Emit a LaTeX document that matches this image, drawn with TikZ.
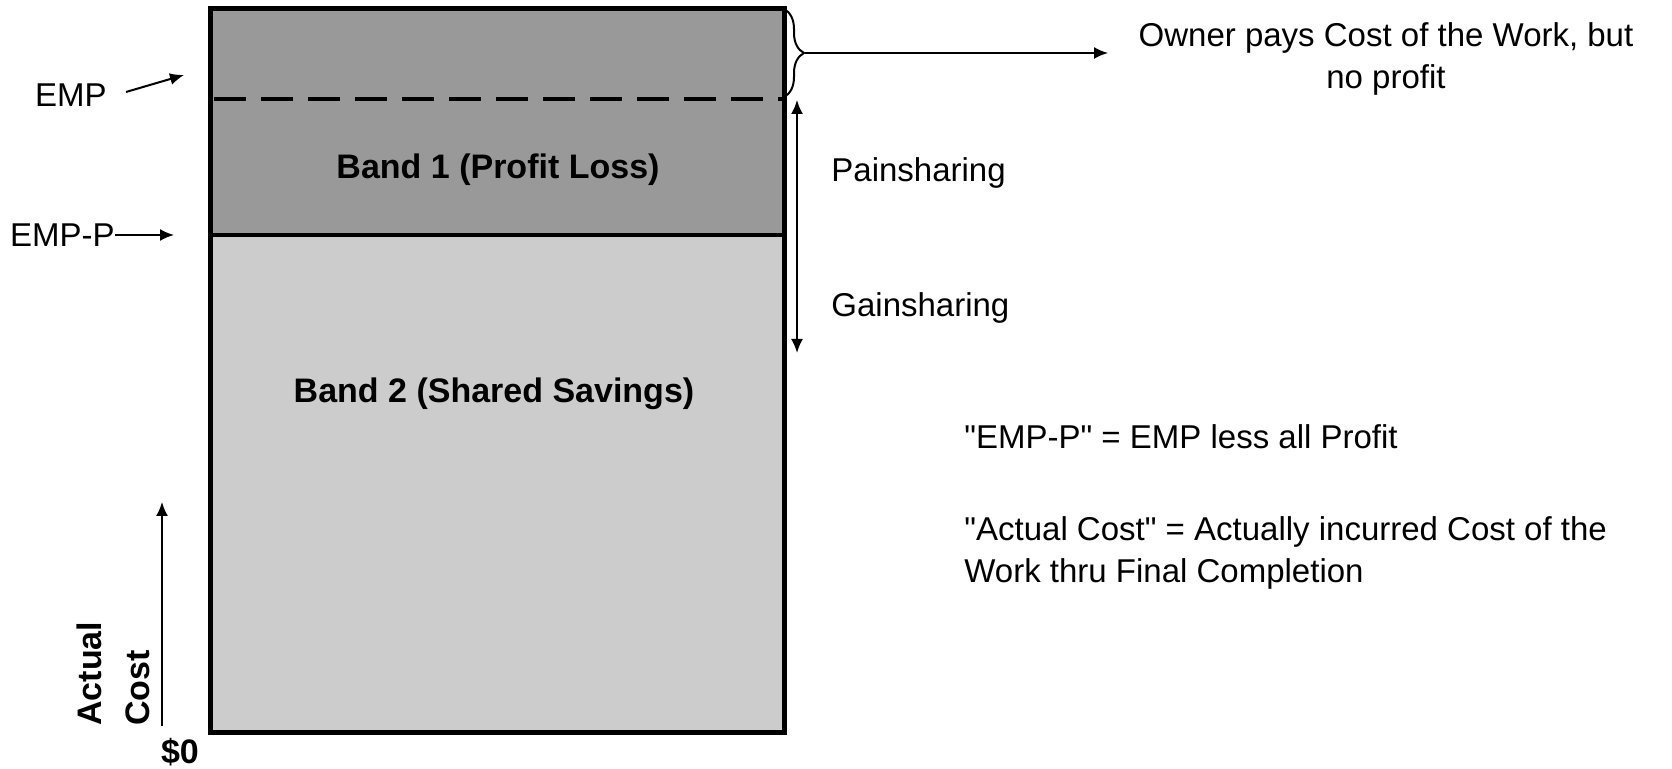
\documentclass[tikz,border=0pt]{standalone}
\usepackage{fontspec}
\setmainfont{Liberation Sans}[Ligatures=TeXOff]
\usetikzlibrary{arrows.meta,decorations.pathreplacing}
\begin{document}
\begin{tikzpicture}[x=0.5pt,y=-0.5pt,
  lbl/.style={font=\fontsize{16.5}{21}\selectfont, inner sep=0pt},
  bandlbl/.style={font=\fontsize{17}{24}\selectfont\bfseries, inner sep=0pt},
  arr/.style={line width=1pt, -{Latex[length=7pt,width=6pt]}},
  darr/.style={line width=1pt, {Latex[length=7pt,width=6pt]}-{Latex[length=7pt,width=6pt]}},
]
\useasboundingbox (0,0) rectangle (1672,769);
% bands
\fill[black!40] (210,9) rectangle (784,235);
\fill[black!20] (210,235) rectangle (784,733);
\draw[line width=2.5pt] (210,9) rectangle (784,733);
\draw[line width=2pt] (210,235) -- (784,235);
\draw[line width=2pt, dash pattern=on 16pt off 7.5pt] (214,99) -- (784,99);
% band labels
\node[bandlbl] (b1) at (498,170) {Band 1 (Profit Loss)};
\node[bandlbl] (b2) at (494,394) {Band 2 (Shared Savings)};
% left labels
\node[lbl, anchor=east] (emp) at (107,95) {EMP};
\coordinate (empS) at (126,92);
\coordinate (empT) at (184,75);
\draw[arr] (empS) -- (empT);
\node[lbl, anchor=east] (empp) at (115,235) {EMP-P};
\coordinate (emppT) at (174,235);
\draw[arr] (empp.east) -- (emppT);
% brace and owner text
\coordinate (brT) at (784,9);
\coordinate (brB) at (784,97);
\draw[line width=1pt, decorate, decoration={brace, amplitude=10pt}] (brT) -- (brB);
\coordinate (brtip) at (805,53);
\coordinate (ownA) at (1108,53);
\draw[arr] (brtip) -- (ownA);
\node[lbl, align=center] (owner) at (1386,59) {Owner pays Cost of the Work, but\\no profit};
% double arrow
\coordinate (daT) at (797,100);
\coordinate (daB) at (797,353);
\draw[darr] (daT) -- (daB);
\node[lbl, anchor=west] (pain) at (831,173) {Painsharing};
\node[lbl, anchor=west] (gain) at (831,308) {Gainsharing};
% definitions
\node[lbl, anchor=west] (def1) at (964,437) {"EMP-P" = EMP less all Profit};
\node[lbl, anchor=west, align=left] (def2) at (964,553) {"Actual Cost" = Actually incurred Cost of the\\Work thru Final Completion};
% actual cost axis
\node[bandlbl, rotate=90, anchor=north west, align=left] (ac) at (76,726) {Actual\\Cost};
\coordinate (axB) at (162,726);
\coordinate (axT) at (162,502);
\draw[arr] (axB) -- (axT);
\node[bandlbl] (zero) at (180,752) {\$0};
\end{tikzpicture}
\end{document}
